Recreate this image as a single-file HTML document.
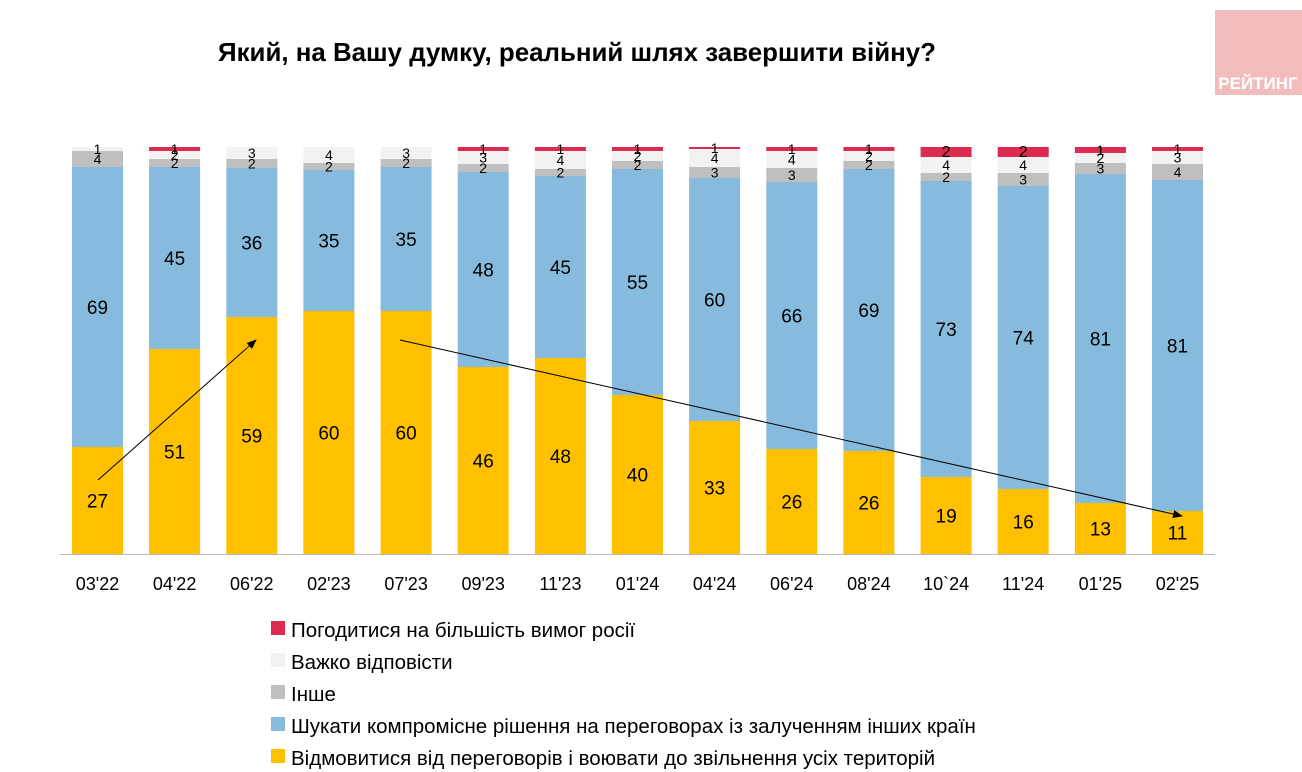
<!DOCTYPE html><html><head><meta charset="utf-8"><style>body{margin:0;background:#fff}svg{display:block;font-family:"Liberation Sans",Arial,sans-serif}</style></head><body>
<svg width="1302" height="772" viewBox="0 0 1302 772" xmlns="http://www.w3.org/2000/svg">
<rect x="1215" y="10" width="87" height="85" fill="#F2BCBC"/>
<text x="1258" y="89" font-size="17" font-weight="bold" fill="#fff" text-anchor="middle">РЕЙТИНГ</text>
<text x="577" y="61" font-size="26" font-weight="bold" text-anchor="middle" textLength="718" lengthAdjust="spacingAndGlyphs">Який, на Вашу думку, реальний шлях завершити війну?</text>
<g>
<!-- 1 -->
<rect x="72" y="447" width="51" height="107" fill="#FFC000"/><rect x="72" y="167" width="51" height="280" fill="#87BBDD"/><rect x="72" y="151" width="51" height="16" fill="#BFBFBF"/><rect x="72" y="147" width="51" height="4" fill="#F2F2F2"/>
<!-- 2 -->
<rect x="149.1" y="349" width="51" height="205" fill="#FFC000"/><rect x="149.1" y="167" width="51" height="182" fill="#87BBDD"/><rect x="149.1" y="159" width="51" height="8" fill="#BFBFBF"/><rect x="149.1" y="151" width="51" height="8" fill="#F2F2F2"/><rect x="149.1" y="147" width="51" height="4" fill="#DC2A50"/>
<!-- 3 -->
<rect x="226.3" y="317" width="51" height="237" fill="#FFC000"/><rect x="226.3" y="168" width="51" height="149" fill="#87BBDD"/><rect x="226.3" y="159" width="51" height="9" fill="#BFBFBF"/><rect x="226.3" y="147" width="51" height="12" fill="#F2F2F2"/>
<!-- 4 -->
<rect x="303.4" y="311" width="51" height="243" fill="#FFC000"/><rect x="303.4" y="170" width="51" height="141" fill="#87BBDD"/><rect x="303.4" y="163" width="51" height="7" fill="#BFBFBF"/><rect x="303.4" y="147" width="51" height="16" fill="#F2F2F2"/>
<!-- 5 -->
<rect x="380.6" y="311" width="51" height="243" fill="#FFC000"/><rect x="380.6" y="167" width="51" height="144" fill="#87BBDD"/><rect x="380.6" y="159" width="51" height="8" fill="#BFBFBF"/><rect x="380.6" y="147" width="51" height="12" fill="#F2F2F2"/>
<!-- 6 -->
<rect x="457.7" y="367" width="51" height="187" fill="#FFC000"/><rect x="457.7" y="172" width="51" height="195" fill="#87BBDD"/><rect x="457.7" y="164" width="51" height="8" fill="#BFBFBF"/><rect x="457.7" y="151" width="51" height="13" fill="#F2F2F2"/><rect x="457.7" y="147" width="51" height="4" fill="#DC2A50"/>
<!-- 7 -->
<rect x="534.9" y="358" width="51" height="196" fill="#FFC000"/><rect x="534.9" y="176" width="51" height="182" fill="#87BBDD"/><rect x="534.9" y="169" width="51" height="7" fill="#BFBFBF"/><rect x="534.9" y="151" width="51" height="18" fill="#F2F2F2"/><rect x="534.9" y="147" width="51" height="4" fill="#DC2A50"/>
<!-- 8 -->
<rect x="612" y="395" width="51" height="159" fill="#FFC000"/><rect x="612" y="169" width="51" height="226" fill="#87BBDD"/><rect x="612" y="161" width="51" height="8" fill="#BFBFBF"/><rect x="612" y="151" width="51" height="10" fill="#F2F2F2"/><rect x="612" y="147" width="51" height="4" fill="#DC2A50"/>
<!-- 9 -->
<rect x="689.1" y="421" width="51" height="133" fill="#FFC000"/><rect x="689.1" y="178" width="51" height="243" fill="#87BBDD"/><rect x="689.1" y="167" width="51" height="11" fill="#BFBFBF"/><rect x="689.1" y="149" width="51" height="18" fill="#F2F2F2"/><rect x="689.1" y="147" width="51" height="2" fill="#DC2A50"/>
<!-- 10 -->
<rect x="766.3" y="449" width="51" height="105" fill="#FFC000"/><rect x="766.3" y="182" width="51" height="267" fill="#87BBDD"/><rect x="766.3" y="168" width="51" height="14" fill="#BFBFBF"/><rect x="766.3" y="151" width="51" height="17" fill="#F2F2F2"/><rect x="766.3" y="147" width="51" height="4" fill="#DC2A50"/>
<!-- 11 -->
<rect x="843.4" y="451" width="51" height="103" fill="#FFC000"/><rect x="843.4" y="169" width="51" height="282" fill="#87BBDD"/><rect x="843.4" y="161" width="51" height="8" fill="#BFBFBF"/><rect x="843.4" y="151" width="51" height="10" fill="#F2F2F2"/><rect x="843.4" y="147" width="51" height="4" fill="#DC2A50"/>
<!-- 12 -->
<rect x="920.6" y="477" width="51" height="77" fill="#FFC000"/><rect x="920.6" y="181" width="51" height="296" fill="#87BBDD"/><rect x="920.6" y="173" width="51" height="8" fill="#BFBFBF"/><rect x="920.6" y="157" width="51" height="16" fill="#F2F2F2"/><rect x="920.6" y="147" width="51" height="10" fill="#DC2A50"/>
<!-- 13 -->
<rect x="997.7" y="489" width="51" height="65" fill="#FFC000"/><rect x="997.7" y="186" width="51" height="303" fill="#87BBDD"/><rect x="997.7" y="173" width="51" height="13" fill="#BFBFBF"/><rect x="997.7" y="157" width="51" height="16" fill="#F2F2F2"/><rect x="997.7" y="147" width="51" height="10" fill="#DC2A50"/>
<!-- 14 -->
<rect x="1074.9" y="503" width="51" height="51" fill="#FFC000"/><rect x="1074.9" y="174" width="51" height="329" fill="#87BBDD"/><rect x="1074.9" y="163" width="51" height="11" fill="#BFBFBF"/><rect x="1074.9" y="153" width="51" height="10" fill="#F2F2F2"/><rect x="1074.9" y="147" width="51" height="6" fill="#DC2A50"/>
<!-- 15 -->
<rect x="1152" y="511" width="51" height="43" fill="#FFC000"/><rect x="1152" y="180" width="51" height="331" fill="#87BBDD"/><rect x="1152" y="164" width="51" height="16" fill="#BFBFBF"/><rect x="1152" y="151" width="51" height="13" fill="#F2F2F2"/><rect x="1152" y="147" width="51" height="4" fill="#DC2A50"/>
</g>
<g font-size="19" text-anchor="middle">
<text x="97.5" y="507.5">27</text><text x="97.5" y="314">69</text>
<text x="174.6" y="458.5">51</text><text x="174.6" y="265">45</text>
<text x="251.8" y="442.5">59</text><text x="251.8" y="249.5">36</text>
<text x="328.9" y="439.5">60</text><text x="328.9" y="247.5">35</text>
<text x="406.1" y="439.5">60</text><text x="406.1" y="246">35</text>
<text x="483.2" y="467.5">46</text><text x="483.2" y="276.5">48</text>
<text x="560.4" y="463">48</text><text x="560.4" y="274">45</text>
<text x="637.5" y="481.5">40</text><text x="637.5" y="289">55</text>
<text x="714.6" y="494.5">33</text><text x="714.6" y="306.5">60</text>
<text x="791.8" y="508.5">26</text><text x="791.8" y="322.5">66</text>
<text x="868.9" y="509.5">26</text><text x="868.9" y="317">69</text>
<text x="946.1" y="522.5">19</text><text x="946.1" y="336">73</text>
<text x="1023.2" y="528.5">16</text><text x="1023.2" y="344.5">74</text>
<text x="1100.4" y="535.5">13</text><text x="1100.4" y="345.5">81</text>
<text x="1177.5" y="539.5">11</text><text x="1177.5" y="352.5">81</text>
</g>
<g font-size="14" text-anchor="middle">
<text x="97.5" y="164">4</text><text x="97.5" y="154">1</text>
<text x="174.6" y="168">2</text><text x="174.6" y="160">2</text><text x="174.6" y="154">1</text>
<text x="251.8" y="168.5">2</text><text x="251.8" y="158">3</text>
<text x="328.9" y="171.5">2</text><text x="328.9" y="160">4</text>
<text x="406.1" y="168">2</text><text x="406.1" y="158">3</text>
<text x="483.2" y="173">2</text><text x="483.2" y="162.5">3</text><text x="483.2" y="154">1</text>
<text x="560.4" y="177.5">2</text><text x="560.4" y="165">4</text><text x="560.4" y="154">1</text>
<text x="637.5" y="170">2</text><text x="637.5" y="161">2</text><text x="637.5" y="154">1</text>
<text x="714.6" y="177.5">3</text><text x="714.6" y="163">4</text><text x="714.6" y="153">1</text>
<text x="791.8" y="180">3</text><text x="791.8" y="164.5">4</text><text x="791.8" y="154">1</text>
<text x="868.9" y="170">2</text><text x="868.9" y="161">2</text><text x="868.9" y="154">1</text>
<text x="946.1" y="182">2</text><text x="946.1" y="170">4</text><text x="946.1" y="157" font-size="16">2</text>
<text x="1023.2" y="184.5">3</text><text x="1023.2" y="170">4</text><text x="1023.2" y="157" font-size="16">2</text>
<text x="1100.4" y="173.5">3</text><text x="1100.4" y="163">2</text><text x="1100.4" y="155">1</text>
<text x="1177.5" y="177">4</text><text x="1177.5" y="162.5">3</text><text x="1177.5" y="154">1</text>
</g>
<line x1="60" y1="554.5" x2="1215" y2="554.5" stroke="#bbb"/>
<g font-size="18" text-anchor="middle">
<text x="97.5" y="590">03'22</text><text x="174.6" y="590">04'22</text><text x="251.8" y="590">06'22</text><text x="328.9" y="590">02'23</text><text x="406.1" y="590">07'23</text><text x="483.2" y="590">09'23</text><text x="560.4" y="590">11'23</text><text x="637.5" y="590">01'24</text><text x="714.6" y="590">04'24</text><text x="791.8" y="590">06'24</text><text x="868.9" y="590">08'24</text><text x="946.1" y="590">10`24</text><text x="1023.2" y="590">11'24</text><text x="1100.4" y="590">01'25</text><text x="1177.5" y="590">02'25</text>
</g>
<defs><marker id="ar" markerWidth="10" markerHeight="8" refX="9" refY="4" orient="auto" markerUnits="userSpaceOnUse"><path d="M0,0 L10,4 L0,8z" fill="#000"/></marker></defs>
<line x1="98" y1="480" x2="256" y2="340" stroke="#000" stroke-width="1" marker-end="url(#ar)"/>
<line x1="400" y1="340" x2="1182" y2="516" stroke="#000" stroke-width="1" marker-end="url(#ar)"/>
<g font-size="20.5">
<rect x="271" y="621" width="14" height="14" fill="#DC2A50"/><text x="291" y="637">Погодитися на більшість вимог росії</text>
<rect x="271" y="653" width="14" height="14" fill="#F2F2F2"/><text x="291" y="669">Важко відповісти</text>
<rect x="271" y="685" width="14" height="14" fill="#BFBFBF"/><text x="291" y="701">Інше</text>
<rect x="271" y="717" width="14" height="14" fill="#87BBDD"/><text x="291" y="733">Шукати компромісне рішення на переговорах із залученням інших країн</text>
<rect x="271" y="749" width="14" height="14" fill="#FFC000"/><text x="291" y="765">Відмовитися від переговорів і воювати до звільнення усіх територій</text>
</g>
</svg></body></html>
